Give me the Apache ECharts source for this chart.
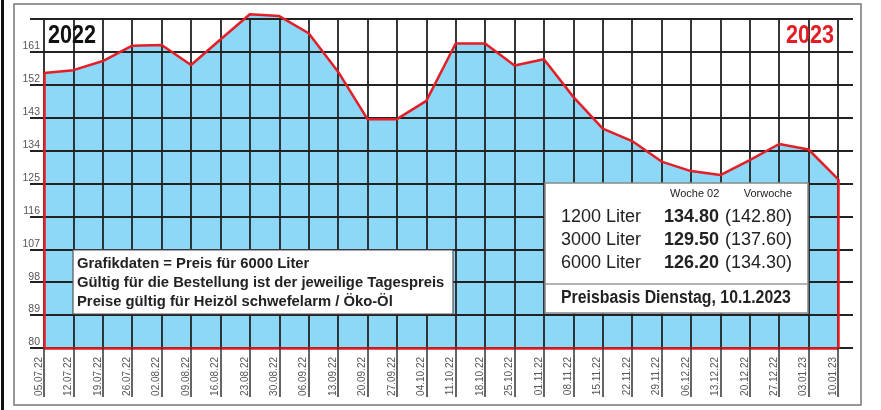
<!DOCTYPE html>
<html>
<head>
<meta charset="utf-8">
<script src="https://cdn.jsdelivr.net/npm/echarts@6/dist/echarts.min.js"></script>
<style>
html,body{margin:0;padding:0;background:#fff;}
#chart{width:881px;height:410px;}
</style>
</head>
<body>
<div id="chart"></div>
<script>
var categories = ['05.07.22','12.07.22','19.07.22','26.07.22','02.08.22','09.08.22','16.08.22','23.08.22','30.08.22','06.09.22','13.09.22','20.09.22','27.09.22','04.10.22','11.10.22','18.10.22','25.10.22','01.11.22','08.11.22','15.11.22','22.11.22','29.11.22','06.12.22','13.12.22','20.12.22','27.12.22','03.01.23','10.01.23'];
var prices = [155.2,156.0,158.5,162.7,162.9,157.4,164.4,171.3,170.8,166.1,155.6,142.6,142.6,147.6,163.3,163.3,157.3,159.0,148.7,140.0,136.6,131.0,128.4,127.3,131.4,135.8,134.3,126.2];
var yMin = 80, yMax = 170, yStep = 9;
var volumes = ['1200 Liter','3000 Liter','6000 Liter'];
var currentWeek = [134.80,129.50,126.20];
var previousWeek = [142.80,137.60,134.30];
var headerCurrent = 'Woche 02';
var headerPrevious = 'Vorwoche';
var footerText = 'Preisbasis Dienstag, 10.1.2023';
var noteLines = ['Grafikdaten = Preis für 6000 Liter','Gültig für die Bestellung ist der jeweilige Tagespreis','Preise gültig für Heizöl schwefelarm / Öko-Öl'];
var yearLeft = '2022', yearRight = '2023';

var RED = '#e31e26', BLUE = '#8dd8f6', GRID = '#222';
var FONT = '"Liberation Sans", Arial, Helvetica, sans-serif';
var last = categories.length - 1;

var graphics = [
  {type:'rect', z:100, shape:{x:14,y:4,width:847,height:401}, style:{fill:'none', stroke:'#777', lineWidth:1.5}, silent:true},
  {type:'rect', z:100, shape:{x:1,y:0,width:3,height:410}, style:{fill:'#111'}, silent:true},
  {type:'text', z:100, x:48, y:36, scaleX:0.83, style:{text:yearLeft, font:'bold 26px '+FONT, fill:'#111', textAlign:'left', textVerticalAlign:'middle'}},
  {type:'text', z:100, x:834, y:36, scaleX:0.83, style:{text:yearRight, font:'bold 26px '+FONT, fill:RED, textAlign:'right', textVerticalAlign:'middle'}},
  // note box
  {type:'rect', z:100, shape:{x:73,y:250,width:380,height:64}, style:{fill:'#fff', stroke:'#555', lineWidth:1.2}},
  // info box
  {type:'rect', z:100, shape:{x:545,y:183,width:263,height:130}, style:{fill:'#fff', stroke:'#888', lineWidth:1.5}},
  {type:'line', z:101, shape:{x1:545,y1:284,x2:808,y2:284}, style:{stroke:'#999', lineWidth:1.5}},
  {type:'text', z:101, x:670, y:194, style:{text:headerCurrent, font:'11px '+FONT, fill:'#222', textAlign:'left', textVerticalAlign:'middle'}},
  {type:'text', z:101, x:792, y:194, style:{text:headerPrevious, font:'11px '+FONT, fill:'#222', textAlign:'right', textVerticalAlign:'middle'}},
  {type:'text', z:101, x:561, y:298, scaleX:0.88, style:{text:footerText, font:'bold 18px '+FONT, fill:'#222', textAlign:'left', textVerticalAlign:'middle'}}
];
noteLines.forEach(function(t,i){
  graphics.push({type:'text', z:101, x:77, y:264 + i*19, style:{text:t, font:'bold 14.8px '+FONT, fill:'#222', textAlign:'left', textVerticalAlign:'middle'}});
});
volumes.forEach(function(v,i){
  var y = 217 + i*23;
  graphics.push({type:'text', z:101, x:561, y:y, style:{text:v, font:'18px '+FONT, fill:'#222', textAlign:'left', textVerticalAlign:'middle'}});
  graphics.push({type:'text', z:101, x:719, y:y, style:{text:currentWeek[i].toFixed(2), font:'bold 18px '+FONT, fill:'#222', textAlign:'right', textVerticalAlign:'middle'}});
  graphics.push({type:'text', z:101, x:792, y:y, style:{text:'(' + previousWeek[i].toFixed(2) + ')', font:'18px '+FONT, fill:'#222', textAlign:'right', textVerticalAlign:'middle'}});
});

var chart = echarts.init(document.getElementById('chart'), null, {renderer:'canvas'});
chart.setOption({
  animation:false,
  backgroundColor:'#fff',
  textStyle:{fontFamily:FONT},
  grid:{left:44, right:43, top:19, bottom:62, containLabel:false},
  xAxis:{
    type:'category', data:categories, boundaryGap:false, z:4,
    axisLine:{show:true, lineStyle:{color:RED, width:2.5}},
    axisTick:{show:true, interval:0, length:49, lineStyle:{color:'#333', width:1.5}},
    axisLabel:{interval:0, rotate:90, margin:9, fontSize:10, color:'#555', verticalAlign:'bottom', fontFamily:FONT},
    splitLine:{show:true, interval:0, lineStyle:{color:GRID, width:1.8}}
  },
  yAxis:[{
    type:'value', min:yMin, max:yMax, interval:yStep, position:'left', z:3,
    axisLine:{show:false},
    axisTick:{show:true, length:14, lineStyle:{color:GRID, width:2}},
    axisLabel:{margin:4, fontSize:10.5, color:'#555', verticalAlign:'bottom', fontFamily:FONT,
      formatter:function(v){ return v >= yMax ? '' : String(v); }},
    splitLine:{show:true, lineStyle:{color:GRID, width:2}}
  },{
    type:'value', min:yMin, max:yMax, interval:yStep, position:'right', z:3,
    axisLine:{show:false},
    axisTick:{show:true, length:15, lineStyle:{color:GRID, width:2}},
    axisLabel:{show:false},
    splitLine:{show:false}
  }],
  series:[{
    type:'line', data:prices, yAxisIndex:0, z:1, clip:false, symbol:'none', silent:true,
    lineStyle:{width:0}, areaStyle:{color:BLUE, opacity:1, origin:'start'}
  },{
    type:'line', data:prices, yAxisIndex:0, z:5, clip:false, symbol:'none', silent:true,
    lineStyle:{color:RED, width:2.5},
    markLine:{silent:true, symbol:['none','none'], label:{show:false}, lineStyle:{color:RED, width:2.5, type:'solid'},
      data:[
        [{coord:[categories[0], yMin]}, {coord:[categories[0], prices[0]]}],
        [{coord:[categories[last], yMin]}, {coord:[categories[last], prices[last]]}]
      ]}
  }],
  graphic:graphics
});
</script>
</body>
</html>
